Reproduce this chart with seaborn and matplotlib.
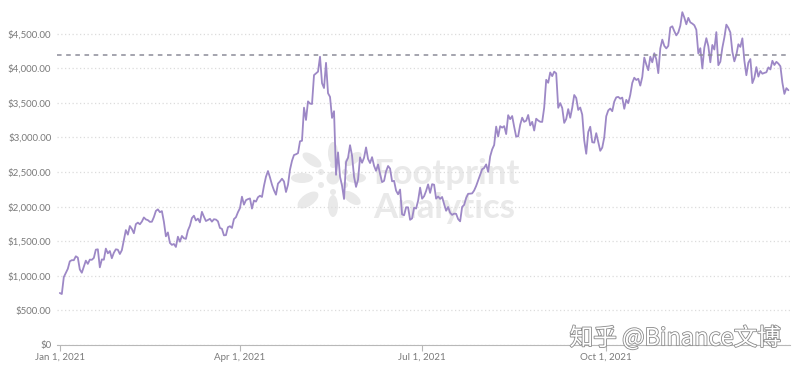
import pandas as pd
import numpy as np
import matplotlib
matplotlib.use("Agg")
import matplotlib.pyplot as plt
import matplotlib.dates as mdates
import matplotlib.patheffects as pe
from matplotlib.patches import Ellipse
from matplotlib.ticker import FuncFormatter
import seaborn as sns

# daily ETH price 2021 (USD)
jan = [750, 735, 980, 1040, 1100, 1208, 1225, 1224, 1281, 1262, 1090, 1043, 1130, 1218, 1171, 1233,
       1230, 1257, 1377, 1382, 1121, 1236, 1231, 1392, 1324, 1357, 1253, 1332, 1382, 1376, 1314]
feb = [1369, 1515, 1660, 1594, 1719, 1677, 1614, 1746, 1768, 1744, 1783, 1843, 1814, 1804, 1779, 1781,
       1848, 1937, 1960, 1919, 1935, 1781, 1570, 1626, 1475, 1446, 1459, 1416]
mar = [1564, 1492, 1575, 1541, 1533, 1655, 1723, 1834, 1868, 1799, 1826, 1772, 1924, 1854, 1791, 1806,
       1823, 1782, 1817, 1812, 1787, 1691, 1678, 1584, 1587, 1702, 1716, 1691, 1819, 1846, 1919]
apr = [1977, 2143, 2028, 2093, 2108, 2118, 1971, 2088, 2072, 2135, 2157, 2139, 2300, 2432, 2514, 2422,
       2317, 2235, 2172, 2332, 2364, 2403, 2363, 2211, 2316, 2534, 2662, 2746, 2757, 2773]
may = [2945, 2952, 3431, 3253, 3522, 3490, 3484, 3902, 3928, 3952, 4168, 3785, 3715, 4079, 3640, 3587,
       3283, 3380, 2460, 2784, 2431, 2303, 2110, 2644, 2706, 2888, 2736, 2433, 2285, 2390, 2712]
jun = [2634, 2707, 2856, 2689, 2630, 2715, 2590, 2517, 2609, 2472, 2354, 2372, 2510, 2587, 2549, 2366,
       2372, 2231, 2178, 2246, 1888, 1874, 1990, 1989, 1809, 1829, 1983, 1972, 2085, 2274]
jul = [2114, 2150, 2226, 2321, 2198, 2324, 2316, 2115, 2146, 2111, 2139, 2036, 1940, 1994, 1911, 1880,
       1898, 1895, 1819, 1787, 1995, 2025, 2124, 2185, 2187, 2191, 2233, 2298, 2380, 2461, 2540]
aug = [2558, 2610, 2502, 2725, 2827, 2891, 3157, 3014, 3163, 3142, 3164, 3049, 3322, 3265, 3310, 3154,
       3012, 3018, 3182, 3286, 3226, 3242, 3325, 3174, 3226, 3100, 3271, 3245, 3227, 3225, 3433]
sep = [3834, 3791, 3940, 3887, 3952, 3927, 3429, 3497, 3427, 3211, 3267, 3410, 3285, 3429, 3614, 3571,
       3398, 3433, 3330, 2958, 2764, 3078, 3155, 2931, 2925, 3062, 2932, 2807, 2853, 3001]
oct_ = [3307, 3391, 3418, 3380, 3518, 3580, 3587, 3561, 3577, 3415, 3544, 3496, 3616, 3789, 3864, 3831,
        3849, 3750, 3875, 4155, 4056, 3973, 4168, 4087, 4218, 4131, 3930, 4288, 4415, 4325, 4288]
nov = [4325, 4590, 4608, 4537, 4477, 4519, 4617, 4812, 4735, 4637, 4730, 4665, 4647, 4623, 4558, 4215,
       4291, 3998, 4300, 4436, 4321, 4087, 4338, 4272, 4524, 4045, 4096, 4297, 4445, 4632]
dec = [4586, 4519, 4240, 4101, 4195, 4348, 4310, 4434, 4111, 3900, 4082, 4134, 3786, 3862, 4018, 3880,
       3961, 3922, 3934, 3943, 4014, 3984, 4109, 4048, 4094, 4068, 4030, 3792, 3630, 3713, 3683]

ref_level = 4190  # dashed reference line
yticks = [0, 500, 1000, 1500, 2000, 2500, 3000, 3500, 4000, 4500]
xtick_dates = ["2021-01-01", "2021-04-01", "2021-07-01", "2021-10-01"]

prices = jan + feb + mar + apr + may + jun + jul + aug + sep + oct_ + nov + dec
df = pd.DataFrame({"date": pd.date_range("2021-01-01", periods=len(prices), freq="D"),
                   "price": prices})

sns.set_style("white")
plt.rcParams["font.family"] = ["Lato", "DejaVu Sans"]

fig = plt.figure(figsize=(8, 3.72), dpi=100)
ax = fig.add_axes([0.071, 0.073, 0.917, 0.905])

sns.lineplot(data=df, x="date", y="price", ax=ax, color="#9d88c6", linewidth=1.3, zorder=3)
ax.axhline(ref_level, color="#8c8c99", linestyle=(0, (3, 3)), linewidth=1.1, zorder=3)

ax.set_xlim(pd.Timestamp("2020-12-30 12:00"), pd.Timestamp("2022-01-01"))
ax.set_ylim(0, 4870)
ax.set_yticks(yticks)
ax.yaxis.set_major_formatter(FuncFormatter(lambda v, p: "$0" if v == 0 else f"${v:,.2f}"))
ax.set_xticks(pd.to_datetime(xtick_dates))
ax.xaxis.set_major_formatter(mdates.DateFormatter("%b %-d, %Y"))
ax.set_xlabel("")
ax.set_ylabel("")

ax.grid(axis="y", color="#dcdcdc", linestyle=(0, (1, 2)), linewidth=0.9)
for s in ["top", "right", "left"]:
    ax.spines[s].set_visible(False)
ax.spines["bottom"].set_color("#b8b8b8")
ax.tick_params(axis="y", length=0, labelsize=7, labelcolor="#7a7a7a", pad=4)
ax.tick_params(axis="x", length=4, color="#b8b8b8", labelsize=7, labelcolor="#7a7a7a", pad=2,
               bottom=True)

# Footprint watermark (behind the line), positions in inches from bottom-left
wm = "#e9e9e9"
blobs = [(3.33, 2.19, 0.10, 0.22, 0), (3.12, 2.12, 0.22, 0.10, -35), (3.02, 1.94, 0.22, 0.10, 0),
         (3.08, 1.72, 0.24, 0.12, 35), (3.33, 1.66, 0.10, 0.22, 0), (3.56, 1.94, 0.20, 0.10, 0),
         (3.52, 1.74, 0.20, 0.10, -35), (3.53, 2.13, 0.20, 0.10, 35),
         (3.33, 1.94, 0.13, 0.13, 0), (3.33, 2.07, 0.06, 0.06, 0), (3.33, 1.80, 0.06, 0.06, 0),
         (3.21, 2.00, 0.06, 0.06, 0), (3.21, 1.87, 0.06, 0.06, 0), (3.45, 2.00, 0.06, 0.06, 0),
         (3.45, 1.87, 0.06, 0.06, 0)]
for bx, by, bw, bh, ang in blobs:
    ax.add_patch(Ellipse((bx, by), bw, bh, angle=ang, facecolor=wm, edgecolor="none",
                         transform=fig.dpi_scale_trans, zorder=0, clip_on=False))
ax.text(0.466, 0.505, "Footprint", fontsize=25, fontweight="bold", color=wm,
        transform=fig.transFigure, zorder=0)
ax.text(0.466, 0.415, "Analytics", fontsize=25, fontweight="bold", color=wm,
        transform=fig.transFigure, zorder=0)

fig.text(0.712, 0.072, "知乎 @Binance文博", fontsize=17, color="white",
         family=["Noto Sans CJK SC", "DejaVu Sans"],
         path_effects=[pe.withStroke(linewidth=1.2, foreground="#8a8a8a")])

fig.savefig("out.png", dpi=100, facecolor="white")
